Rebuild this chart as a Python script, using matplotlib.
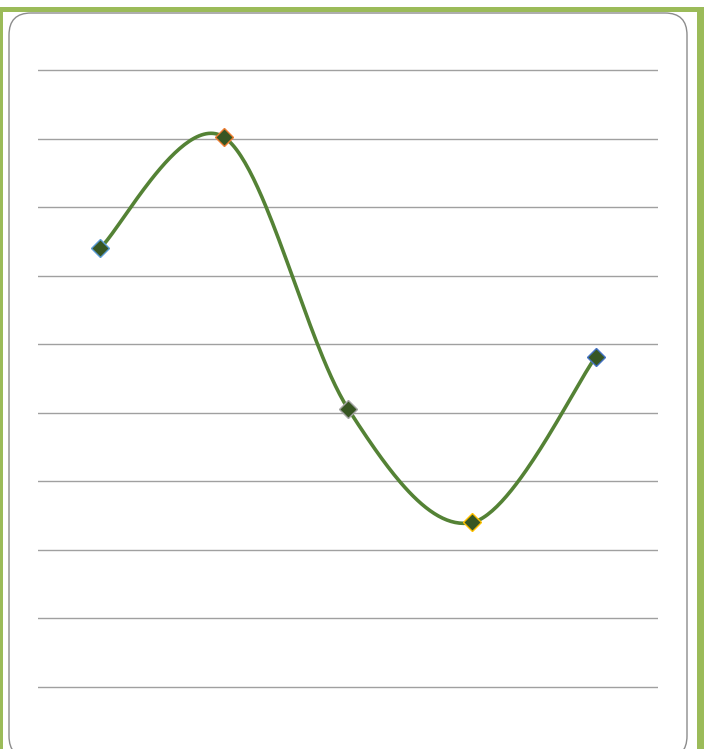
import numpy as np
import matplotlib
matplotlib.use('Agg')
import matplotlib.pyplot as plt
from matplotlib.patches import Rectangle, FancyBboxPatch

# ── Data ────────────────────────────────────────────────────────────────
categories = [1, 2, 3, 4, 5]
values = [3.2, 4.01, 2.03, 1.2, 2.41]
grid_ticks = np.arange(0, 4.51, 0.5)

point_edges = ['#5B9BD5', '#ED7D31', '#A5A5A5', '#FFC000', '#4472C4']
line_colour = '#548235'
marker_fill = '#375623'


def smooth_curve(xs, ys, n=60):
    """Excel-like smoothed line: cubic Bezier with Catmull-Rom control points."""
    pts = np.column_stack([xs, ys]).astype(float)
    out = []
    for i in range(len(pts) - 1):
        p0 = pts[i - 1] if i > 0 else pts[i]
        p1, p2 = pts[i], pts[i + 1]
        p3 = pts[i + 2] if i + 2 < len(pts) else pts[i + 1]
        c1 = p1 + (p2 - p0) / 6
        c2 = p2 - (p3 - p1) / 6
        t = np.linspace(0, 1, n)[:, None]
        seg = ((1 - t) ** 3 * p1 + 3 * (1 - t) ** 2 * t * c1
               + 3 * (1 - t) * t ** 2 * c2 + t ** 3 * p2)
        out.append(seg if i == 0 else seg[1:])
    seg = np.vstack(out)
    return seg[:, 0], seg[:, 1]


W, H = 704, 749
fig = plt.figure(figsize=(W / 100, H / 100), dpi=100)
fig.patch.set_facecolor('white')

# outer green frame (pixel coords -> inches)
inch = fig.dpi_scale_trans
green = '#9BBB59'
for x0, y0, w, h in [(0, 7, 3, 760), (0, 7, 704, 5), (697, 7, 7, 760)]:
    fig.patches.append(Rectangle((x0 / 100, (H - y0 - h) / 100), w / 100, h / 100,
                                 transform=inch, facecolor=green,
                                 edgecolor='none', zorder=0))

# inner rounded chart-area border
fig.patches.append(FancyBboxPatch((9 / 100, (H - 758) / 100), 678 / 100, 745 / 100,
                                  boxstyle='round,pad=0,rounding_size=0.22',
                                  transform=inch, facecolor='white',
                                  edgecolor='#8C8C8C', lw=1.0, zorder=1))

# plot area: x 0.5..5.5 over px 38..658, y 0 at px 687, 4.5 at px 70
unit = (687 - 70) / 4.5
top_px, bot_px = 40, 720
ax = fig.add_axes([38 / W, (H - bot_px) / H, 620 / W, (bot_px - top_px) / H])
ax.set_zorder(5)
ax.set_xlim(0.5, 5.5)
ax.set_ylim(-(bot_px - 687) / unit, 4.5 + (70 - top_px) / unit)
ax.patch.set_alpha(0)
for s in ax.spines.values():
    s.set_visible(False)
ax.set_xticks([])
ax.set_yticks([])

for g in grid_ticks:
    ax.axhline(g, color='#A0A0A0', lw=1.0, zorder=1)

sx, sy = smooth_curve(categories, values)
ax.plot(sx, sy, color=line_colour, lw=2.6, solid_capstyle='round', zorder=3)

for x, y, ec in zip(categories, values, point_edges):
    ax.plot(x, y, 'D', ms=9, markerfacecolor=marker_fill,
            markeredgecolor=ec, markeredgewidth=1.0, zorder=4)

fig.savefig('out.png', dpi=100)
